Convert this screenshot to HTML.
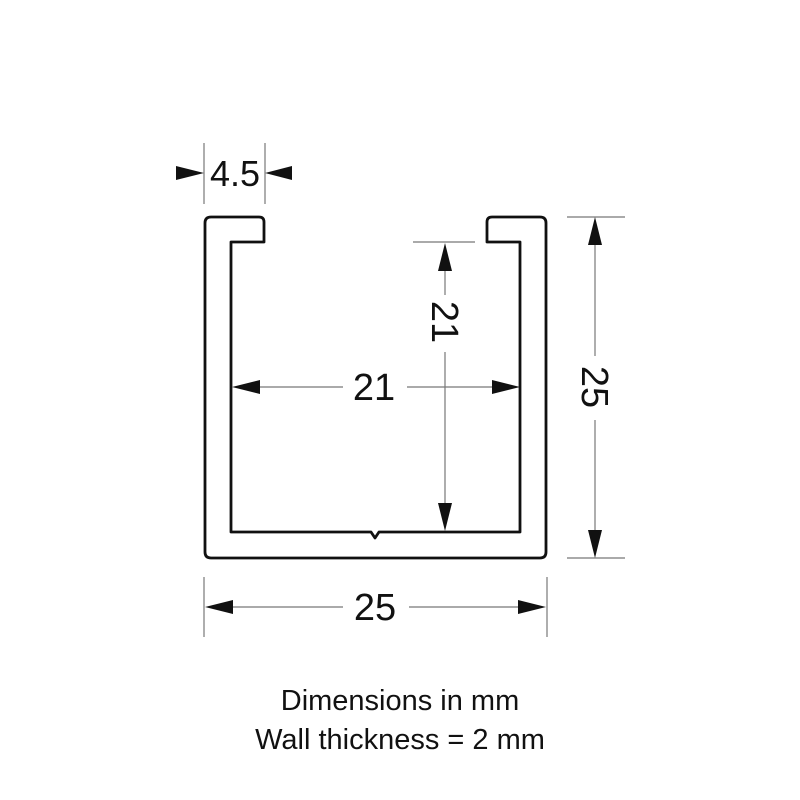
<!DOCTYPE html>
<html><head><meta charset="utf-8"><style>
html,body{margin:0;padding:0;background:#fff;}
svg{display:block;}
text{font-family:"Liberation Sans",sans-serif;fill:#111;}
</style></head><body>
<svg width="800" height="800" viewBox="0 0 800 800" xmlns="http://www.w3.org/2000/svg">
<rect width="800" height="800" fill="#fff"/>
<path d="M205,223 Q205,217 211,217 L259,217 Q264,217 264,222 L264,242 L231,242 L231,532 L371,532 L375,538 L379,532 L520,532 L520,242 L487,242 L487,222 Q487,217 492,217 L540,217 Q546,217 546,223 L546,552 Q546,558 540,558 L211,558 Q205,558 205,552 Z" fill="none" stroke="#111" stroke-width="2.8" stroke-linejoin="round"/>
<g stroke="#777" stroke-width="1.2" fill="none">
<line x1="204" y1="143" x2="204" y2="204"/>
<line x1="265" y1="143" x2="265" y2="204"/>
<line x1="413" y1="242" x2="475" y2="242"/>
<line x1="445" y1="262" x2="445" y2="295"/>
<line x1="445" y1="352" x2="445" y2="512"/>
<line x1="252" y1="387" x2="343" y2="387"/>
<line x1="407" y1="387" x2="500" y2="387"/>
<line x1="567" y1="217" x2="625" y2="217"/>
<line x1="567" y1="558" x2="625" y2="558"/>
<line x1="595" y1="237" x2="595" y2="356"/>
<line x1="595" y1="420" x2="595" y2="538"/>
<line x1="204" y1="577" x2="204" y2="637"/>
<line x1="547" y1="577" x2="547" y2="637"/>
<line x1="224" y1="607" x2="343" y2="607"/>
<line x1="409" y1="607" x2="527" y2="607"/>
</g>
<g fill="#111">
<polygon points="204,173 176,166 176,180"/>
<polygon points="265,173 292,166 292,180"/>
<polygon points="445,243 438,271 452,271"/>
<polygon points="445,531 438,503 452,503"/>
<polygon points="232,387 260,380 260,394"/>
<polygon points="520,387 492,380 492,394"/>
<polygon points="595,217 588,245 602,245"/>
<polygon points="595,558 588,530 602,530"/>
<polygon points="205,607 233,600 233,614"/>
<polygon points="546,607 518,600 518,614"/>
</g>
<text x="235" y="186" font-size="36" text-anchor="middle">4.5</text>
<text x="374" y="400" font-size="38" text-anchor="middle">21</text>
<text x="375" y="620" font-size="38" text-anchor="middle">25</text>
<text transform="translate(432,322) rotate(90)" font-size="38" text-anchor="middle">21</text>
<text transform="translate(582,387) rotate(90)" font-size="38" text-anchor="middle">25</text>
<text x="400" y="710" font-size="29" text-anchor="middle">Dimensions in mm</text>
<text x="400" y="749" font-size="29" text-anchor="middle">Wall thickness = 2 mm</text>
</svg>
</body></html>
